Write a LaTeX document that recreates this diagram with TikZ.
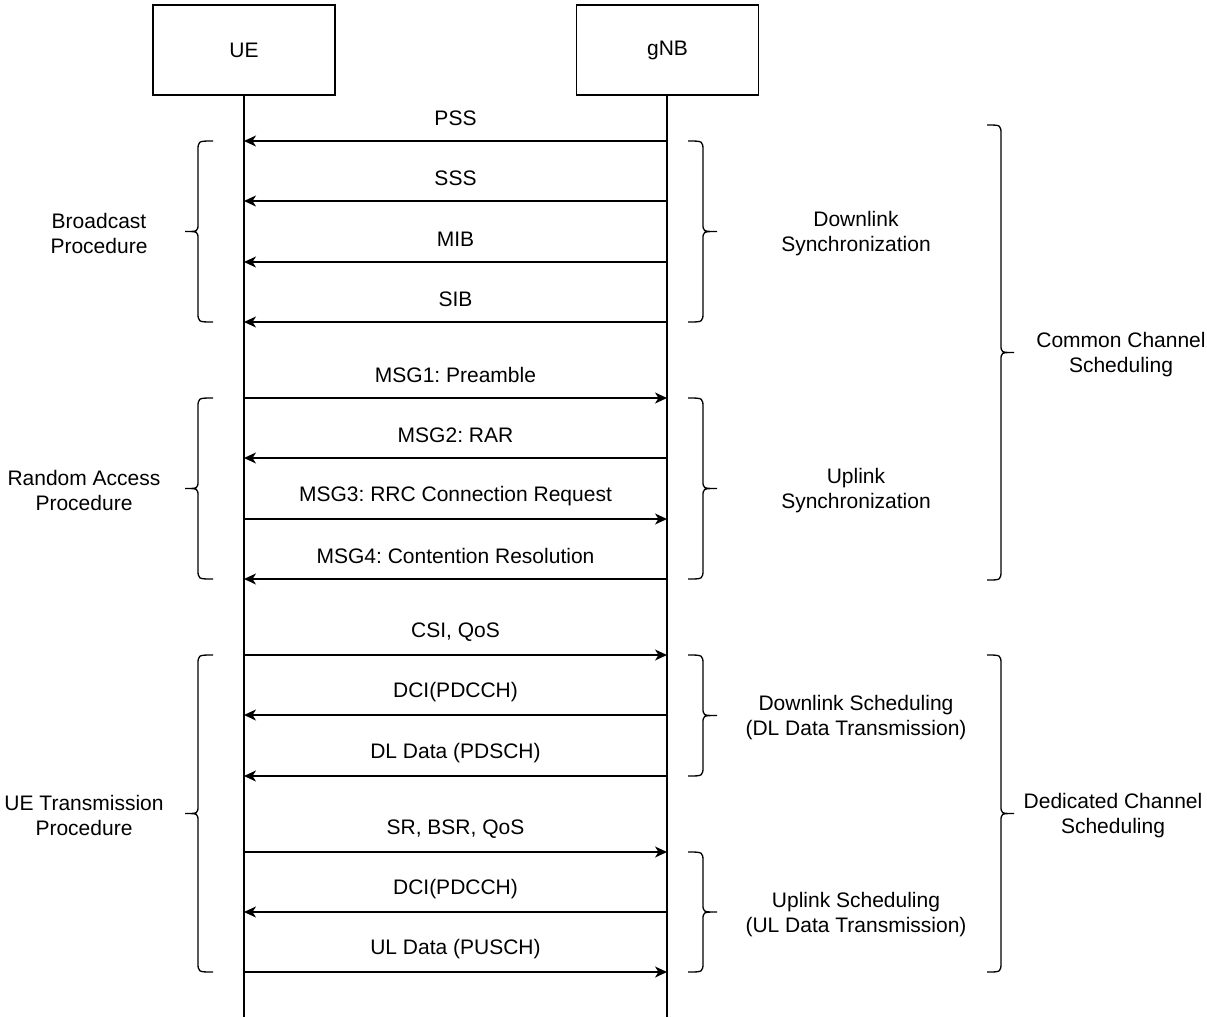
\documentclass[tikz,border=0pt]{standalone}
\usepackage{fontspec}
\setmainfont{Liberation Sans}
\usetikzlibrary{arrows.meta}
\frenchspacing
\newcommand{\mybraceL}[5]{% end x, vertical x, tip x, top y, bottom y
  \pgfmathsetmacro{\bm}{(#4+#5)/2}
  \draw[brc] (#1,#4) .. controls (#2,#4) .. (#2,#4+10) -- (#2,\bm-8)
    .. controls (#2,\bm) .. (#3,\bm) .. controls (#2,\bm) .. (#2,\bm+8)
    -- (#2,#5-10) .. controls (#2,#5) .. (#1,#5);}
\begin{document}
\begin{tikzpicture}[x=1pt,y=-1pt,
  lbl/.style={font=\fontsize{21}{25}\selectfont, align=center, inner sep=0pt},
  actor/.style={draw, line width=1.5pt, minimum width=182pt, minimum height=90pt, font=\fontsize{21}{25}\selectfont},
  life/.style={line width=1.5pt},
  msg/.style={line width=1.5pt, -{Stealth[length=12pt,width=11pt,inset=3.5pt]}},
  brc/.style={line width=1.3pt}]
\useasboundingbox (0,0) rectangle (1207,1017);
\node[actor] (ue) at (244,50) {UE};
\node[actor] (gnb) at (667.5,50) {gNB};
\coordinate (ueend) at (244,1017);
\coordinate (gnbend) at (667,1017);
\draw[life] (ue.south) -- (ueend);
\draw[life] (gnb.south -| gnbend) -- (gnbend);
% message rows
\foreach \i/\y in {1/141,2/201,3/262,4/322,5/398,6/458,7/519,8/579,9/655,10/715,11/776,12/852,13/912,14/972}{
  \coordinate (u\i) at (244,\y);
  \coordinate (g\i) at (667,\y);
}
\draw[msg] (g1) -- (u1) node[lbl, midway, yshift=23pt] (t1) {PSS};
\draw[msg] (g2) -- (u2) node[lbl, midway, yshift=23pt] (t2) {SSS};
\draw[msg] (g3) -- (u3) node[lbl, midway, yshift=23pt] (t3) {MIB};
\draw[msg] (g4) -- (u4) node[lbl, midway, yshift=23pt] (t4) {SIB};
\draw[msg] (u5) -- (g5) node[lbl, midway, yshift=23pt] (t5) {MSG1: Preamble};
\draw[msg] (g6) -- (u6) node[lbl, midway, yshift=23pt] (t6) {MSG2: RAR};
\draw[msg] (u7) -- (g7) node[lbl, midway, yshift=23pt] (t7) {MSG3: RRC Connection Request};
\draw[msg] (g8) -- (u8) node[lbl, midway, yshift=23pt] (t8) {MSG4: Contention Resolution};
\draw[msg] (u9) -- (g9) node[lbl, midway, yshift=23pt] (t9) {CSI, QoS};
\draw[msg] (g10) -- (u10) node[lbl, midway, yshift=23pt] (t10) {DCI(PDCCH)};
\draw[msg] (g11) -- (u11) node[lbl, midway, yshift=23pt] (t11) {DL Data (PDSCH)};
\draw[msg] (u12) -- (g12) node[lbl, midway, yshift=23pt] (t12) {SR, BSR, QoS};
\draw[msg] (g13) -- (u13) node[lbl, midway, yshift=23pt] (t13) {DCI(PDCCH)};
\draw[msg] (u14) -- (g14) node[lbl, midway, yshift=23pt] (t14) {UL Data (PUSCH)};
% left braces
\mybraceL{213}{198}{185}{141}{322}
\mybraceL{213}{198}{185}{398}{579}
\mybraceL{213}{198}{185}{655}{972}
% right braces
\mybraceL{688}{703}{717}{141}{322}
\mybraceL{688}{703}{717}{398}{579}
\mybraceL{688}{703}{717}{655}{776}
\mybraceL{688}{703}{717}{852}{972}
\mybraceL{987}{1001}{1014}{125}{580}
\mybraceL{987}{1001}{1014}{655}{972}
% brace labels
\node[lbl] (bp) at (99,233) {Broadcast\\Procedure};
\node[lbl] (rap) at (84,490) {Random Access\\Procedure};
\node[lbl] (utp) at (84,815) {UE Transmission\\Procedure};
\node[lbl] (dls) at (856,234) {Downlink\\Synchronization};
\node[lbl] (uls) at (856,491) {Uplink\\Synchronization};
\node[lbl] (dlsch) at (856,718) {Downlink Scheduling\\(DL Data Transmission)};
\node[lbl] (ulsch) at (856,915) {Uplink Scheduling\\(UL Data Transmission)};
\node[lbl] (ccs) at (1121,355) {Common Channel\\Scheduling};
\node[lbl] (dcs) at (1113,816) {Dedicated Channel\\Scheduling};
\end{tikzpicture}
\end{document}
